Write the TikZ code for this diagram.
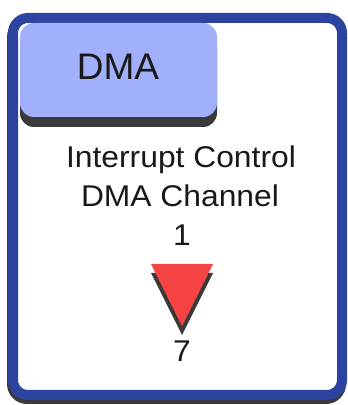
\documentclass[tikz,border=0pt]{standalone}
\usepackage{fontspec}
\setmainfont{Liberation Sans}
\newfontfamily\bodyfont[FakeStretch=1.06]{Liberation Sans}
\definecolor{frameblue}{RGB}{44,68,160}
\definecolor{tabblue}{RGB}{160,176,250}
\definecolor{shadowgray}{RGB}{58,58,58}
\definecolor{trired}{RGB}{246,68,68}
\definecolor{txt}{RGB}{25,25,25}
\tikzset{
  bodytext/.style={anchor=base, inner sep=0pt, text=txt, font=\bodyfont\fontsize{30}{36}\selectfont},
  tabtext/.style={anchor=base, inner sep=0pt, text=txt, font=\fontsize{37}{44}\selectfont},
}
\begin{document}
\begin{tikzpicture}[x=1pt,y=1pt]
\useasboundingbox (0,0) rectangle (348,405);
% outer frame shadow
\fill[shadowgray, rounded corners=20pt] (7,1) rectangle (346,388);
% outer frame
\draw[frameblue, line width=10pt, fill=white, rounded corners=15pt] (13,10) rectangle (342,387);
% tab shadow
\fill[shadowgray, rounded corners=14pt] (20,278) rectangle (217,372);
% tab
\fill[tabblue, rounded corners=14pt] (20,288) rectangle (217,382);
\node[tabtext] (dma) at (118,325) {DMA};
% texts
\node[bodytext] (l1) at (181,237) {Interrupt Control};
\node[bodytext] (l2) at (180,198) {DMA Channel};
\node[bodytext] (one) at (182,159) {1};
% triangle
\fill[shadowgray] (151,132) -- (213,132) -- (182,70) -- cycle;
\fill[trired] (151,141) -- (213,141) -- (182,79) -- cycle;
\node[bodytext] (seven) at (182,43) {7};
\end{tikzpicture}
\end{document}
